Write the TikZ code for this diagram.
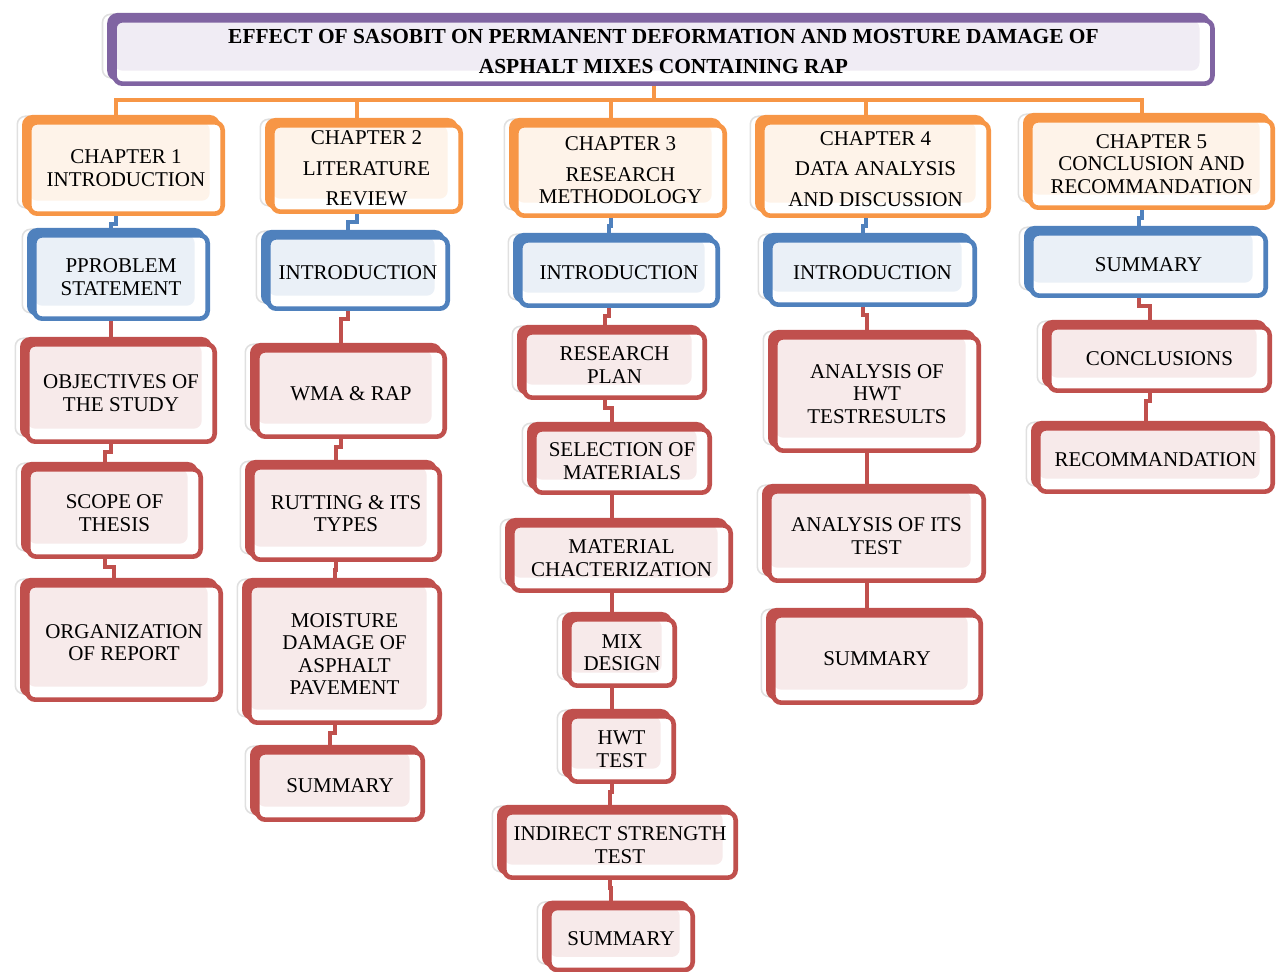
\documentclass[tikz,border=0pt]{standalone}
\usepackage{fontspec}
\setmainfont{Liberation Serif}
\usetikzlibrary{shadows,backgrounds}
\definecolor{cOrange}{HTML}{F79646}
\definecolor{cBlue}{HTML}{4F81BD}
\definecolor{cRed}{HTML}{C0504D}
\definecolor{cPurple}{HTML}{8064A2}
\newcommand{\boxfont}{\fontsize{10.5}{11.25}\selectfont}
\tikzstyle{card}=[draw=#1, line width=2.3pt, rounded corners=4pt, fill=white, inner sep=0pt, align=center, font=\boxfont,
  general shadow={fill=white, draw=black!12, line width=0.8pt, shadow xshift=-6pt, shadow yshift=3pt},
  general shadow={fill=#1, draw=#1, shadow xshift=-2.5pt, shadow yshift=2.5pt},
  path picture={\fill[#1!12] (path picture bounding box.north west) rectangle ([xshift=-6.5pt,yshift=6.5pt]path picture bounding box.south east);}]
\tikzstyle{pBox}=[card=cPurple]
\tikzstyle{oBox}=[card=cOrange]
\tikzstyle{bBox}=[card=cBlue]
\tikzstyle{rBox}=[card=cRed]
\tikzstyle{link}=[line width=2pt, to path={([xshift=-5pt]\tikztostart.south) -- ++(0,-#1) -| ([xshift=-5pt]\tikztotarget.north)}]
\tikzstyle{lOrange}=[link=7pt, draw=cOrange]
\tikzstyle{lBlue}=[link=4pt, draw=cBlue]
\tikzstyle{lRed}=[link=4pt, draw=cRed]

\begin{document}
\begin{tikzpicture}[x=0.5pt,y=-0.5pt]
                \useasboundingbox (0,0) rectangle (1276,972);

                \draw (663.5,52) node[pBox, minimum width=549pt, minimum height=31.7pt, font=\bfseries\fontsize{10.7}{11.25}\selectfont] (title) {EFFECT OF SASOBIT ON PERMANENT DEFORMATION AND MOSTURE DAMAGE OF\\[3.75pt]ASPHALT MIXES CONTAINING RAP};

                % chapter 1
                \draw (126,168) node[oBox, minimum width=96.7pt, minimum height=45.7pt] (ch1) {CHAPTER 1\\INTRODUCTION};
                \draw (121,277) node[bBox, minimum width=86.7pt, minimum height=41.7pt] (prob) {PPROBLEM\\STATEMENT};
                \draw (121,393) node[rBox, minimum width=93.7pt, minimum height=48.7pt] (obj) {OBJECTIVES OF\\THE STUDY};
                \draw (114.5,513) node[rBox, minimum width=86.2pt, minimum height=43.7pt] (scope) {SCOPE OF\\THESIS};
                \draw (124,642.5) node[rBox, minimum width=96.7pt, minimum height=57.2pt] (org) {ORGANIZATION\\OF REPORT};

                % chapter 2
                \draw (366.5,168.5) node[oBox, minimum width=94.2pt, minimum height=43.2pt] (ch2) {CHAPTER 2\\[4pt]LITERATURE\\[4pt]REVIEW};
                \draw (358,273) node[bBox, minimum width=89.7pt, minimum height=35.7pt] (intro2) {INTRODUCTION};
                \draw (351,393.5) node[rBox, minimum width=93.7pt, minimum height=43.2pt] (wma) {WMA \& RAP};
                \draw (346,513.5) node[rBox, minimum width=93.7pt, minimum height=46.2pt] (rut) {RUTTING \& ITS\\TYPES};
                \draw (344.5,654) node[rBox, minimum width=95.2pt, minimum height=68.7pt] (moist) {MOISTURE\\DAMAGE OF\\ASPHALT\\PAVEMENT};
                \draw (340,786) node[rBox, minimum width=82.7pt, minimum height=33.7pt] (sum2) {SUMMARY};

                % chapter 3
                \draw (620.5,170.5) node[oBox, minimum width=104.2pt, minimum height=45.2pt] (ch3) {CHAPTER 3\\[4pt]RESEARCH\\METHODOLOGY};
                \draw (619,273) node[bBox, minimum width=98.7pt, minimum height=32.7pt] (intro3) {INTRODUCTION};
                \draw (614.5,365) node[rBox, minimum width=90.2pt, minimum height=32.7pt] (plan) {RESEARCH\\PLAN};
                \draw (622,461) node[rBox, minimum width=87.7pt, minimum height=31.7pt] (sel) {SELECTION OF\\MATERIALS};
                \draw (621.5,558) node[rBox, minimum width=109.2pt, minimum height=32.7pt] (mat) {MATERIAL\\CHACTERIZATION};
                \draw (622,652.5) node[rBox, minimum width=52.7pt, minimum height=33.2pt] (mix) {MIX\\DESIGN};
                \draw (621.5,749) node[rBox, minimum width=52.2pt, minimum height=32.7pt] (hwt) {HWT\\TEST};
                \draw (620,845) node[rBox, minimum width=115.7pt, minimum height=32.7pt] (its) {INDIRECT STRENGTH\\TEST};
                \draw (621,939) node[rBox, minimum width=71.7pt, minimum height=31pt] (sum3) {SUMMARY};

                % chapter 4
                \draw (875.5,169) node[oBox, minimum width=113.2pt, minimum height=46.7pt] (ch4) {CHAPTER 4\\[4pt]DATA ANALYSIS\\[4pt]AND DISCUSSION};
                \draw (872.5,272.5) node[bBox, minimum width=102.2pt, minimum height=32.2pt] (intro4) {INTRODUCTION};
                \draw (877,394) node[rBox, minimum width=101.7pt, minimum height=56.7pt] (ahwt) {ANALYSIS OF\\HWT\\TESTRESULTS};
                \draw (876.5,536) node[rBox, minimum width=107.2pt, minimum height=44.7pt] (aits) {ANALYSIS OF ITS\\TEST};
                \draw (877,659) node[rBox, minimum width=103.7pt, minimum height=43.7pt] (sum4) {SUMMARY};

                % chapter 5
                \draw (1151.5,164) node[oBox, minimum width=121.2pt, minimum height=43.7pt] (ch5) {CHAPTER 5\\CONCLUSION AND\\RECOMMANDATION};
                \draw (1148.5,264.5) node[bBox, minimum width=117.2pt, minimum height=31.2pt] (sum5) {SUMMARY};
                \draw (1159.5,359) node[rBox, minimum width=110.2pt, minimum height=31.7pt] (conc) {CONCLUSIONS};
                \draw (1155.5,460) node[rBox, minimum width=117.2pt, minimum height=31.7pt] (rec) {RECOMMANDATION};

                \begin{pgfonlayer}{background}
                \path
                    (title) edge[lOrange] (ch1)
                    (title) edge[lOrange] (ch2)
                    (title) edge[lOrange] (ch3)
                    (title) edge[lOrange] (ch4)
                    (title) edge[lOrange] (ch5)
                    (ch1) edge[lBlue] (prob)
                    (prob) edge[lRed] (obj)
                    (obj) edge[lRed] (scope)
                    (scope) edge[lRed] (org)
                    (ch2) edge[lBlue] (intro2)
                    (intro2) edge[lRed] (wma)
                    (wma) edge[lRed] (rut)
                    (rut) edge[lRed] (moist)
                    (moist) edge[lRed] (sum2)
                    (ch3) edge[lBlue] (intro3)
                    (intro3) edge[lRed] (plan)
                    (plan) edge[lRed] (sel)
                    (sel) edge[lRed] (mat)
                    (mat) edge[lRed] (mix)
                    (mix) edge[lRed] (hwt)
                    (hwt) edge[lRed] (its)
                    (its) edge[lRed] (sum3)
                    (ch4) edge[lBlue] (intro4)
                    (intro4) edge[lRed] (ahwt)
                    (ahwt) edge[lRed] (aits)
                    (aits) edge[lRed] (sum4)
                    (ch5) edge[lBlue] (sum5)
                    (sum5) edge[lRed] (conc)
                    (conc) edge[lRed] (rec)
                ;
                \end{pgfonlayer}

\end{tikzpicture}
\end{document}
